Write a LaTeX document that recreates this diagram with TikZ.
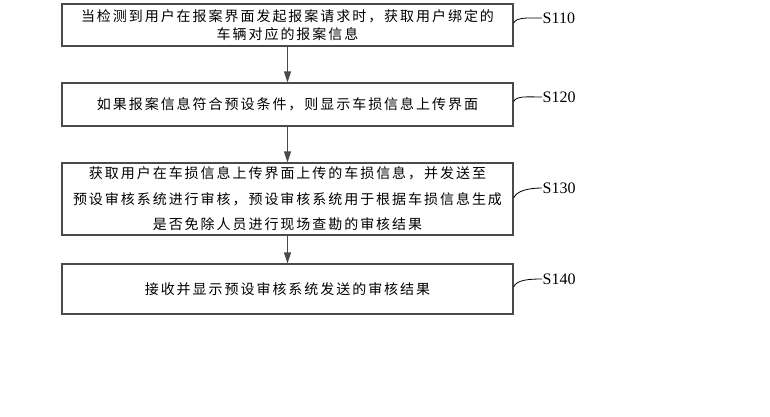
\documentclass[tikz,border=0pt]{standalone}
\usepackage{fontspec}
\setmainfont{Liberation Serif}
\newfontfamily\cjk[LetterSpace=14]{Noto Sans CJK SC}
\usetikzlibrary{arrows.meta}
\definecolor{edge}{HTML}{4A4A4A}
\tikzset{
  stepbox/.style={draw=edge, line width=1.2pt, fill=white, minimum width=451pt, inner sep=0pt, align=center, text=black},
  flowarrow/.style={draw=edge, line width=1.2pt, -{Triangle[length=11pt,width=7pt]}},
  steplabel/.style={anchor=west, inner sep=0.5pt, font=\fontsize{16}{18}\selectfont, text=black},
  labelline/.style={draw=black, line width=0.8pt}
}
\begin{document}
\begin{tikzpicture}[x=1pt,y=-1pt]
\fill[white] (0,0) rectangle (770,416);
\useasboundingbox (0,0) rectangle (770,416);

\node[stepbox, minimum height=42pt, font=\cjk\fontsize{14}{18}\selectfont] (b1) at (287.5,25)
  {当检测到用户在报案界面发起报案请求时，获取用户绑定的\\车辆对应的报案信息};
\node[stepbox, minimum height=43pt, font=\cjk\fontsize{14}{18}\selectfont] (b2) at (287.5,104.5)
  {如果报案信息符合预设条件，则显示车损信息上传界面};
\node[stepbox, minimum height=72pt, font=\cjk\fontsize{14}{25.5}\selectfont] (b3) at (287.5,199)
  {获取用户在车损信息上传界面上传的车损信息，并发送至\\预设审核系统进行审核，预设审核系统用于根据车损信息生成\\是否免除人员进行现场查勘的审核结果};
\node[stepbox, minimum height=50pt, font=\cjk\fontsize{14}{18}\selectfont] (b4) at (287.5,289)
  {接收并显示预设审核系统发送的审核结果};

\draw[flowarrow] (b1.south) -- (b2.north);
\draw[flowarrow] (b2.south) -- (b3.north);
\draw[flowarrow] (b3.south) -- (b4.north);

\node[steplabel] (l1) at (542,18) {S110};
\node[steplabel] (l2) at (542,97) {S120};
\node[steplabel] (l3) at (542,188) {S130};
\node[steplabel] (l4) at (542,279) {S140};

\coordinate (c1) at ([yshift=2pt]b1.east);
\coordinate (c2) at ([yshift=3pt]b2.east);
\coordinate (c3) at ([yshift=1pt]b3.east);
\coordinate (c4) at ([yshift=2pt]b4.east);

\draw[labelline] (c1) .. controls +(3,-6) and +(-14,0) .. (l1.west);
\draw[labelline] (c2) .. controls +(3,-6) and +(-14,0) .. (l2.west);
\draw[labelline] (c3) .. controls +(3,-7) and +(-14,0) .. (l3.west);
\draw[labelline] (c4) .. controls +(3,-7) and +(-14,0) .. (l4.west);
\end{tikzpicture}
\end{document}
